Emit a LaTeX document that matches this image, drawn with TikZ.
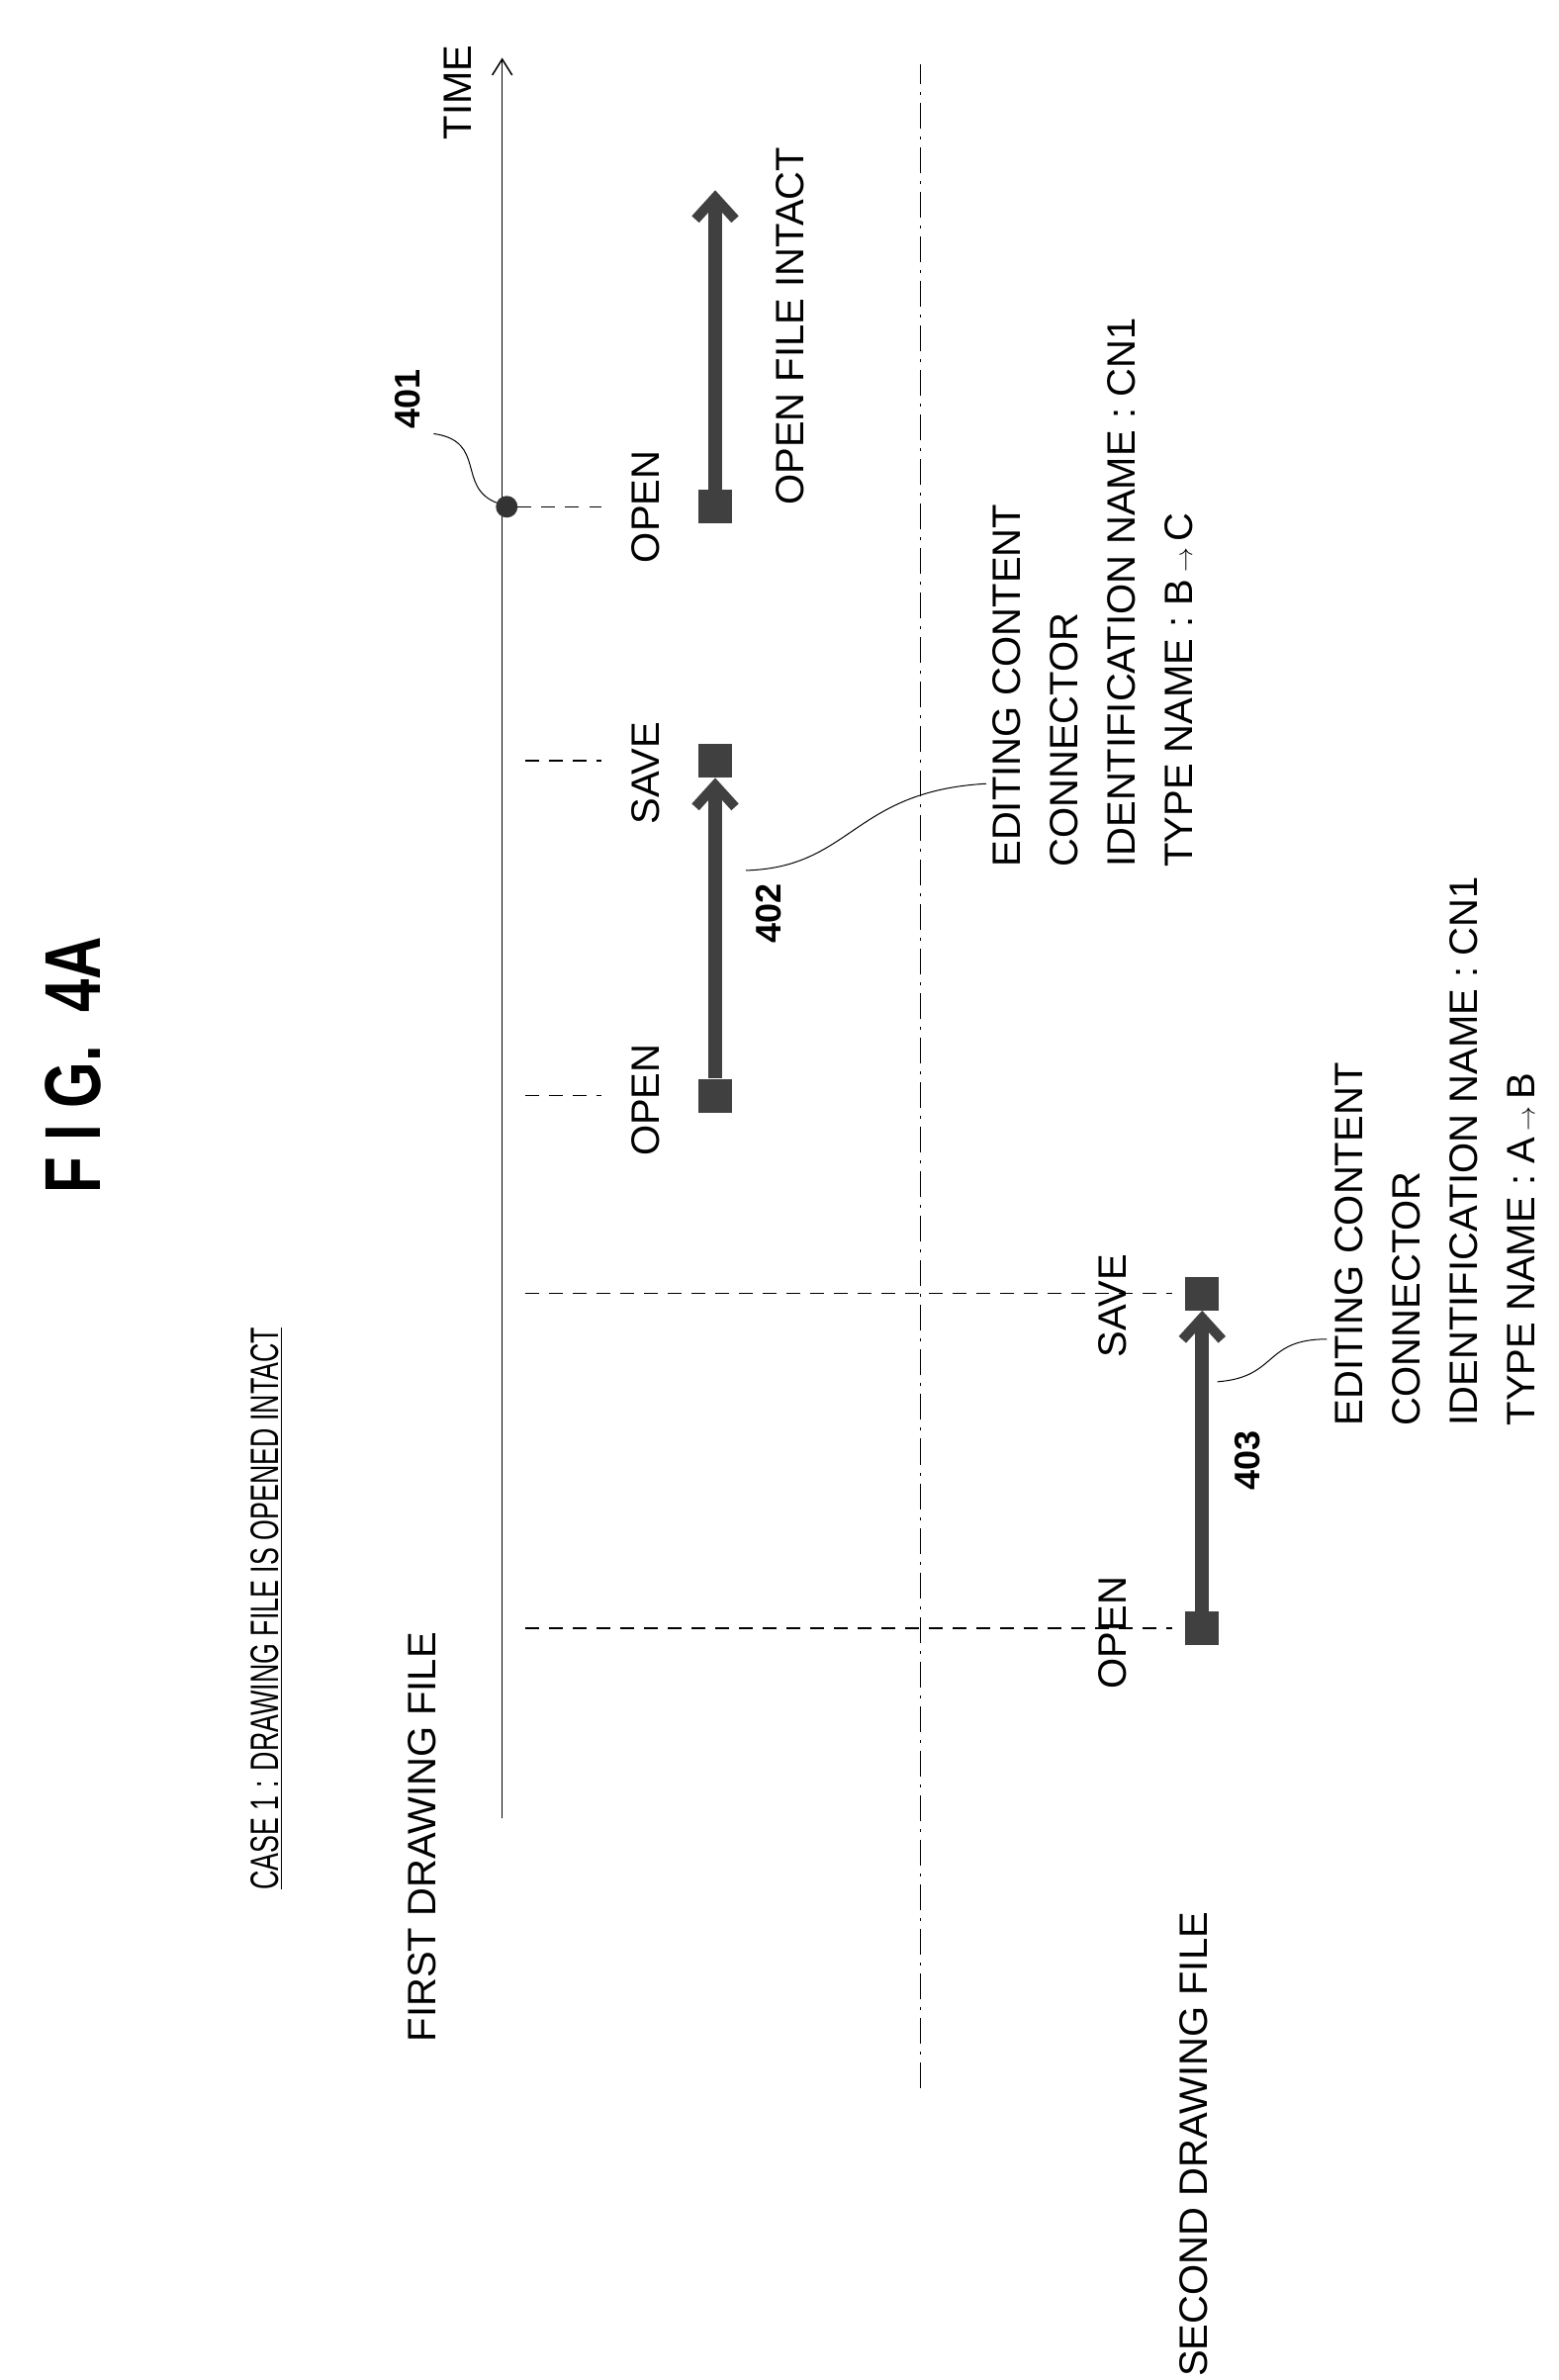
\documentclass[tikz,border=0pt]{standalone}
\usepackage{fontspec}
\setmainfont{Liberation Sans}
\usetikzlibrary{arrows.meta}
\begin{document}
\begin{tikzpicture}[x=1.538pt,y=-1.538pt,
  lab/.style={rotate=90,anchor=north west,align=left,inner sep=0pt,font=\fontsize{40}{58}\selectfont},
  num/.style={rotate=90,font=\bfseries\fontsize{36}{40}\selectfont},
  bar/.style={line width=14pt,draw=black!75,-{Straight Barb[length=22pt,width=40pt,line width=10pt]}},
  sq/.style={fill=black!75,minimum width=34pt,minimum height=34pt,inner sep=0pt},
  dsh/.style={dashed,line width=1.5pt,dash pattern=on 14pt off 10pt}]
\useasboundingbox (0,0) rectangle (1024,1564);
% axes
\coordinate (t0) at (330,1195); \coordinate (t1) at (330,38);
\draw[line width=1.5pt,-{Straight Barb[length=16pt,width=20pt]}] (t0) -- (t1);
\coordinate (d0) at (605,1372); \coordinate (d1) at (605,42);
\draw[line width=1.5pt,dash pattern=on 26pt off 8pt on 3pt off 8pt] (d0) -- (d1);
\node[lab] (time) at (292,92) {TIME};
\node[rotate=90,font=\bfseries\fontsize{80}{80}\selectfont] (fig) at (48,700) {\scalebox{0.75}[1]{F I G.\ \ 4A}};
\node[lab] (case) at (165,1242) {\scalebox{0.67}[1]{\underline{CASE 1 : DRAWING FILE IS OPENED INTACT}}};
\node[lab] (f1) at (268,1342) {FIRST DRAWING FILE};
\node[lab] (f2) at (775,1562) {SECOND DRAWING FILE};
% 401
\node[circle,fill=black!80,minimum size=22pt,inner sep=0pt] (p401) at (333,333) {};
\coordinate (e401) at (395,333);
\draw[dsh] (p401) -- (e401);
\node[num] (l401) at (268,262) {401};
\draw[line width=1pt] (p401) .. controls (300,320) and (320,290) .. (285,285);
\node[sq] (s1) at (470,333) {};
\coordinate (a1) at (470,125);
\draw[bar] (s1) -- (a1);
\node[lab] (o1) at (415,370) {OPEN};
\node[lab] (ofi) at (510,332) {OPEN FILE INTACT};
% 402
\node[sq] (s2a) at (470,720) {};
\node[sq] (s2b) at (470,500) {};
\draw[bar] (s2a) -- (s2b.south);
\coordinate (q1) at (345,720); \coordinate (q2) at (395,720);
\coordinate (q3) at (345,500); \coordinate (q4) at (395,500);
\draw[dsh] (q1) -- (q2); \draw[dsh] (q3) -- (q4);
\node[lab] (o2) at (415,760) {OPEN};
\node[lab] (sv2) at (415,542) {SAVE};
\node[num] (l402) at (505,600) {402};
\coordinate (c2) at (490,572); \coordinate (c2e) at (648,515);
\draw[line width=1pt] (c2) .. controls (560,570) and (560,520) .. (c2e);
\node[lab] (t2) at (652,570) {EDITING CONTENT\\CONNECTOR\\IDENTIFICATION NAME : CN1\\TYPE NAME : B\,$\rightarrow$\,C};
% 403
\node[sq] (s3a) at (790,1070) {};
\node[sq] (s3b) at (790,850) {};
\draw[bar] (s3a) -- (s3b.south);
\coordinate (r1) at (345,1070); \coordinate (r2) at (770,1070);
\coordinate (r3) at (345,850); \coordinate (r4) at (770,850);
\draw[dsh] (r1) -- (r2); \draw[dsh] (r3) -- (r4);
\node[lab] (o3) at (722,1110) {OPEN};
\node[lab] (sv3) at (722,892) {SAVE};
\node[num] (l403) at (820,960) {403};
\coordinate (c3) at (800,908); \coordinate (c3e) at (872,880);
\draw[line width=1pt] (c3) .. controls (840,905) and (830,880) .. (c3e);
\node[lab] (t3) at (877,937) {EDITING CONTENT\\CONNECTOR\\IDENTIFICATION NAME : CN1\\TYPE NAME : A\,$\rightarrow$\,B};
\end{tikzpicture}
\end{document}
